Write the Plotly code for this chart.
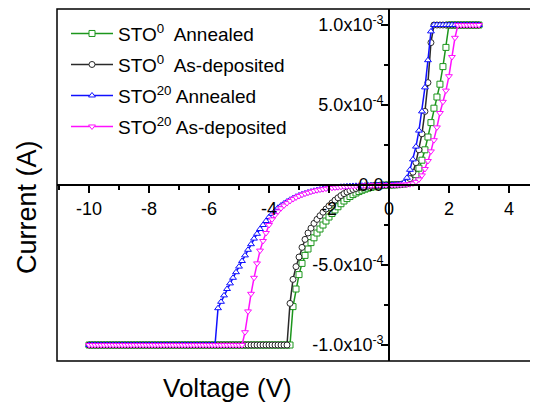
import plotly.graph_objects as go

# Sweep voltage (V)
voltage = [
    -10.0, -9.9, -9.8, -9.7, -9.6, -9.5, -9.4, -9.3, -9.2, -9.1,
    -9.0, -8.9, -8.8, -8.7, -8.6, -8.5, -8.4, -8.3, -8.2, -8.1,
    -8.0, -7.9, -7.8, -7.7, -7.6, -7.5, -7.4, -7.3, -7.2, -7.1,
    -7.0, -6.9, -6.8, -6.7, -6.6, -6.5, -6.4, -6.3, -6.2, -6.1,
    -6.0, -5.9, -5.8, -5.7, -5.6, -5.5, -5.4, -5.3, -5.2, -5.1,
    -5.0, -4.9, -4.8, -4.7, -4.6, -4.5, -4.4, -4.3, -4.2, -4.1,
    -4.0, -3.9, -3.8, -3.7, -3.6, -3.5, -3.4, -3.3, -3.2, -3.1,
    -3.0, -2.9, -2.8, -2.7, -2.6, -2.5, -2.4, -2.3, -2.2, -2.1,
    -2.0, -1.9, -1.8, -1.7, -1.6, -1.5, -1.4, -1.3, -1.2, -1.1,
    -1.0, -0.9, -0.8, -0.7, -0.6, -0.5, -0.4, -0.3, -0.2, -0.1,
    0.0, 0.1, 0.2, 0.3, 0.4, 0.5, 0.6, 0.7, 0.8, 0.9,
    1.0, 1.1, 1.2, 1.3, 1.4, 1.5, 1.6, 1.7, 1.8, 1.9,
    2.0, 2.1, 2.2, 2.3, 2.4, 2.5, 2.6, 2.7, 2.8, 2.9,
    3.0,
]

# Currents in units of 1e-4 A
sto0_annealed = [
    -10, -10, -10, -10, -10, -10, -10, -10, -10, -10,
    -10, -10, -10, -10, -10, -10, -10, -10, -10, -10,
    -10, -10, -10, -10, -10, -10, -10, -10, -10, -10,
    -10, -10, -10, -10, -10, -10, -10, -10, -10, -10,
    -10, -10, -10, -10, -10, -10, -10, -10, -10, -10,
    -10, -10, -10, -10, -10, -10, -10, -10, -10, -10,
    -10, -10, -10, -10, -10, -10, -10, -10, -7.6, -6.5,
    -5.6, -4.9, -4.4, -4.0, -3.6, -3.3, -3.0, -2.75, -2.5, -2.25,
    -2.0, -1.78, -1.56, -1.36, -1.17, -1.0, -0.85, -0.72, -0.6, -0.5,
    -0.41, -0.33, -0.26, -0.2, -0.15, -0.11, -0.07, -0.04, -0.02, -0.01,
    0.0, 0.005, 0.01, 0.02, 0.03, 0.05, 0.1, 0.2, 0.38, 0.65,
    1.05, 1.55, 2.2, 3.0, 3.9, 4.8, 5.5, 6.3, 7.4, 8.6,
    10, 10, 10, 10, 10, 10, 10, 10, 10, 10,
    10,
]

sto0_asdep = [
    -10, -10, -10, -10, -10, -10, -10, -10, -10, -10,
    -10, -10, -10, -10, -10, -10, -10, -10, -10, -10,
    -10, -10, -10, -10, -10, -10, -10, -10, -10, -10,
    -10, -10, -10, -10, -10, -10, -10, -10, -10, -10,
    -10, -10, -10, -10, -10, -10, -10, -10, -10, -10,
    -10, -10, -10, -10, -10, -10, -10, -10, -10, -10,
    -10, -10, -10, -10, -10, -10, -10, -7.4, -5.9, -5.1,
    -4.5, -3.9, -3.4, -3.0, -2.7, -2.4, -2.15, -1.92, -1.7, -1.5,
    -1.3, -1.12, -0.95, -0.8, -0.66, -0.54, -0.44, -0.35, -0.28, -0.22,
    -0.17, -0.13, -0.1, -0.07, -0.05, -0.035, -0.02, -0.012, -0.006, -0.002,
    0.0, 0.004, 0.01, 0.02, 0.04, 0.08, 0.18, 0.4, 0.8, 1.4,
    2.2, 3.2, 4.6, 6.4, 8.9, 10, 10, 10, 10, 10,
    10, 10, 10, 10, 10, 10, 10, 10, 10, 10,
    10,
]

sto20_annealed = [
    -10, -10, -10, -10, -10, -10, -10, -10, -10, -10,
    -10, -10, -10, -10, -10, -10, -10, -10, -10, -10,
    -10, -10, -10, -10, -10, -10, -10, -10, -10, -10,
    -10, -10, -10, -10, -10, -10, -10, -10, -10, -10,
    -10, -10, -10, -7.7, -7.3, -6.9, -6.5, -6.15, -5.8, -5.45,
    -5.1, -4.75, -4.4, -4.05, -3.7, -3.35, -3.05, -2.75, -2.5, -2.25,
    -2.0, -1.8, -1.6, -1.42, -1.28, -1.15, -1.03, -0.92, -0.82, -0.73,
    -0.65, -0.58, -0.52, -0.46, -0.41, -0.36, -0.32, -0.28, -0.25, -0.22,
    -0.19, -0.17, -0.15, -0.13, -0.11, -0.10, -0.08, -0.07, -0.06, -0.05,
    -0.045, -0.04, -0.03, -0.025, -0.02, -0.015, -0.01, -0.008, -0.005, -0.002,
    0.0, 0.005, 0.01, 0.02, 0.05, 0.15, 0.45, 0.95, 1.6, 2.4,
    3.4, 4.6, 6.1, 7.8, 9.6, 10, 10, 10, 10, 10,
    10, 10, 10, 10, 10, 10, 10, 10, 10, 10,
    10,
]

sto20_asdep = [
    -10, -10, -10, -10, -10, -10, -10, -10, -10, -10,
    -10, -10, -10, -10, -10, -10, -10, -10, -10, -10,
    -10, -10, -10, -10, -10, -10, -10, -10, -10, -10,
    -10, -10, -10, -10, -10, -10, -10, -10, -10, -10,
    -10, -10, -10, -10, -10, -10, -10, -10, -10, -10,
    -10, -10, -9.2, -7.9, -6.8, -5.8, -4.9, -4.1, -3.5, -3.0,
    -2.5, -2.15, -1.88, -1.65, -1.45, -1.28, -1.13, -1.0, -0.88, -0.78,
    -0.69, -0.61, -0.54, -0.48, -0.42, -0.37, -0.33, -0.29, -0.26, -0.23,
    -0.2, -0.18, -0.16, -0.14, -0.12, -0.1, -0.09, -0.08, -0.07, -0.06,
    -0.05, -0.04, -0.035, -0.03, -0.025, -0.02, -0.015, -0.01, -0.006, -0.003,
    0.0, 0.003, 0.006, 0.01, 0.015, 0.02, 0.03, 0.05, 0.1, 0.2,
    0.35, 0.6, 1.0, 1.5, 2.1, 2.8, 3.6, 4.5, 5.2, 5.9,
    6.8, 8.0, 9.2, 10, 10, 10, 10, 10, 10, 10,
    10,
]

series_names = [
    "STO<sup>0</sup>\u00a0 Annealed",
    "STO<sup>0</sup>\u00a0 As-deposited",
    "STO<sup>20</sup> Annealed",
    "STO<sup>20</sup> As-deposited",
]
series_values = [sto0_annealed, sto0_asdep, sto20_annealed, sto20_asdep]
series_colors = ["#1c961c", "#2a2a2a", "#1010ff", "#ff10ff"]
series_symbols = ["square", "circle", "triangle-up", "triangle-down"]

x_tickvals = [-10, -8, -6, -4, -2, 0, 2, 4]
x_ticktext = ["-10", "-8", "-6", "-4", "-2", "0", "2", "4"]
x_minor = [-11, -9, -7, -5, -3, -1, 1, 3, 5]
y_tickvals = [-1.0e-3, -5.0e-4, 0.0, 5.0e-4, 1.0e-3]
y_ticktext = ["-1.0x10<sup>-3</sup>", "-5.0x10<sup>-4</sup>", "0.0",
              "5.0x10<sup>-4</sup>", "1.0x10<sup>-3</sup>"]
y_minor = [-7.5e-4, -2.5e-4, 2.5e-4, 7.5e-4]

FONT = "Liberation Sans, Arial, sans-serif"

fig = go.Figure()
for i, (name, vals, col, sym) in enumerate(zip(series_names, series_values,
                                                series_colors, series_symbols)):
    fig.add_trace(go.Scatter(
        x=voltage,
        y=[v * 1e-4 for v in vals],
        mode="lines+markers",
        name=name,
        legendgroup="g%d" % i,
        line=dict(color=col, width=1.5),
        marker=dict(symbol=sym, size=6, color="white",
                    line=dict(color=col, width=1)),
    ))

x_lo, x_hi = -11.07, 4.97
y_lo, y_hi = -1.1e-3, 1.1e-3

# The page body adds an 8 px offset, so the figure is 8 px smaller each way.
fig.update_layout(
    width=530, height=396,
    margin=dict(l=49, r=0, t=1, b=43, autoexpand=False),
    paper_bgcolor="white", plot_bgcolor="white",
    font=dict(family=FONT, color="black", size=16),
    showlegend=True,
    legend=dict(x=(66 - 57) / 481, y=0.984, xanchor="left", yanchor="top",
                bgcolor="rgba(0,0,0,0)", font=dict(size=19, family=FONT),
                tracegroupgap=3.3, itemwidth=42),
    xaxis=dict(range=[x_lo, x_hi], anchor="free",
               position=(0 - y_lo) / (y_hi - y_lo), automargin=False,
               showline=True, linecolor="black", linewidth=1.5,
               ticks="outside", ticklen=7, tickwidth=1.5, tickcolor="black",
               tickmode="array", tickvals=x_tickvals, ticktext=x_ticktext,
               minor=dict(tickvals=x_minor, ticklen=4, tickwidth=1.5,
                          tickcolor="black", ticks="outside"),
               showgrid=False, zeroline=False,
               tickfont=dict(size=18), ticklabelstandoff=1),
    yaxis=dict(range=[y_lo, y_hi], anchor="free",
               position=(0 - x_lo) / (x_hi - x_lo), automargin=False,
               showline=True, linecolor="black", linewidth=1.5,
               ticks="outside", ticklen=7, tickwidth=1.5, tickcolor="black",
               tickmode="array", tickvals=y_tickvals, ticktext=y_ticktext,
               minor=dict(tickvals=y_minor, ticklen=4, tickwidth=1.5,
                          tickcolor="black", ticks="outside"),
               showgrid=False, zeroline=False,
               tickfont=dict(size=18), ticklabelstandoff=-6),
    shapes=[dict(type="rect", xref="paper", yref="paper",
                 x0=0, x1=1.02, y0=0, y1=1,
                 line=dict(color="black", width=1.5), layer="above")],
    annotations=[
        dict(text="Voltage (V)", xref="paper", yref="paper",
             x=(227.5 - 57) / 481, y=(361 - 388) / 352,
             xanchor="center", yanchor="middle", showarrow=False,
             font=dict(size=26, family=FONT)),
        dict(text="Current (A)", xref="paper", yref="paper",
             x=(27 - 57) / 481, y=(361 - 207) / 352, textangle=-90,
             xanchor="center", yanchor="middle", showarrow=False,
             font=dict(size=27, family=FONT)),
    ],
)

fig.write_html("out.html")
